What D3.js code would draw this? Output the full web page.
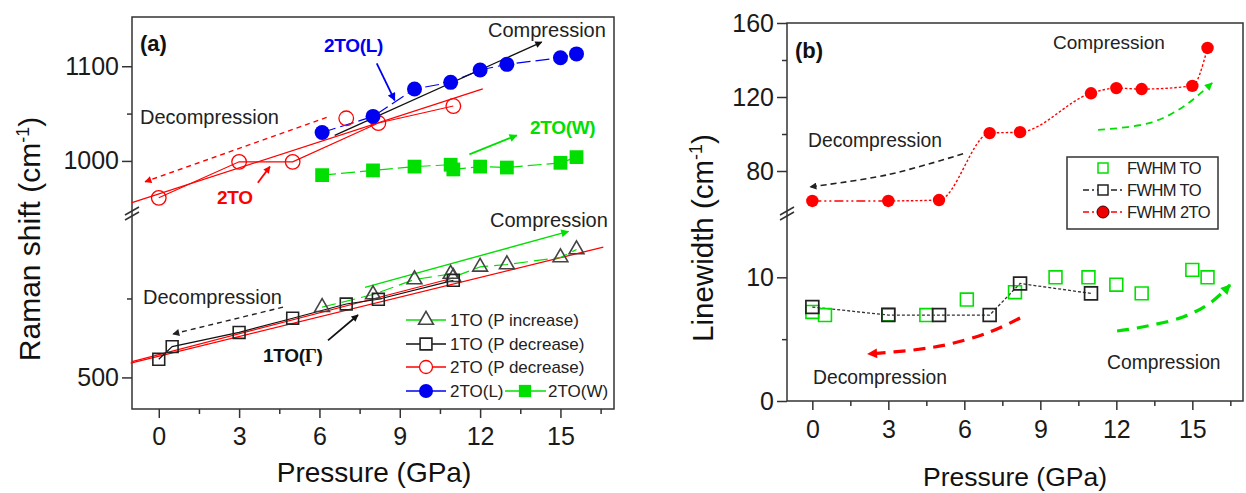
<!DOCTYPE html>
<html><head><meta charset="utf-8">
<script src="https://cdn.jsdelivr.net/npm/d3@7"></script>
<style>body{margin:0;background:#fff}svg{display:block}text{font-family:"Liberation Sans",Arial,sans-serif}</style>
</head><body><svg id="c" width="1246" height="493"></svg>
<script>
// ---------- data ----------
const xTicks = [0, 3, 6, 9, 12, 15];
const xMinor = [1.5, 4.5, 7.5, 10.5, 13.5, 16.5];
// panel (a) axis ticks
const aUpTicks = [1000, 1100], aUpMinor = [1050];
const aLoTicks = [500], aLoMinor = [600];
// panel (b) axis ticks
const bUpTicks = [80, 120, 160], bUpMinor = [100, 140];
const bLoTicks = [0, 10], bLoMinor = [5];

// panel (a) series
const p1TOinc = [6.1, 8, 9.55, 10.9, 11.0, 12, 13, 15, 15.6];
const v1TOinc = [589, 605, 624, 631, 627, 640, 643, 652, 662];
const p1TOdec = [0, 0.5, 3, 5, 7, 8.2, 11];
const v1TOdec = [523, 539, 557, 575, 593, 599, 623];
const p2TOdec = [0, 3, 5, 7, 8.2, 11];
const v2TOdec = [961, 999, 999, 1045, 1040, 1058];
const p2TOL = [6.1, 8, 9.55, 10.9, 12, 13, 15, 15.6];
const v2TOL = [1030, 1047, 1076, 1083, 1096, 1102, 1109, 1113];
const p2TOW = [6.1, 8, 9.55, 10.9, 11.0, 12, 13, 15, 15.6];
const v2TOW = [985, 990, 994, 996, 991, 994, 993, 998, 1004];

// panel (a) fit lines [p0,v0,p1,v1]
const fitRedUp1 = [-1, 956, 12.1, 1076];
const fitRedLo1 = [-1.05, 518, 16.6, 665];
const fitRedLo2 = [-1, 520, 11, 626];
const fitGreenLo = [7.7, 614, 15.3, 685];

// panel (b) series
const pFW2TO = [0, 3, 5, 7, 8.2, 11, 12, 13, 15, 15.6];
const vFW2TO = [63.8, 63.8, 64.3, 100.5, 101, 122, 124.8, 124.3, 126, 146.5];
const pFWTOblk = [0, 3, 5, 7, 8.2, 11];
const vFWTOblk = [7.6, 6.95, 6.95, 6.95, 9.5, 8.7];
const pFWTOgrn = [0, 0.5, 3, 4.5, 6.1, 8, 9.6, 10.9, 12, 13, 15, 15.6];
const vFWTOgrn = [7.2, 6.95, 7.0, 6.95, 8.2, 8.8, 10.0, 10.0, 9.4, 8.7, 10.6, 10.0];

// ---------- setup ----------
const svg = d3.select('#c');
const FONT = '"Liberation Sans",Arial,sans-serif';
const RED = '#ff0000', BLUE = '#0000f0', GREEN = '#00e000', DARK = '#333', TXT = '#222';

const defs = svg.append('defs');
function marker(id, color, w, h) {
  defs.append('marker').attr('id', id).attr('viewBox', '0 0 10 10')
    .attr('refX', 9).attr('refY', 5).attr('markerUnits', 'userSpaceOnUse')
    .attr('markerWidth', w).attr('markerHeight', h).attr('orient', 'auto')
    .append('path').attr('d', 'M0,0 L10,5 L0,10 z').attr('fill', color);
}
marker('ahK', '#111', 10, 7);
marker('ahR', RED, 10, 7);
marker('ahB', BLUE, 10, 8);
marker('ahG', GREEN, 11, 8);
marker('ahRb', RED, 12, 10);
marker('ahGb', GREEN, 12, 10);
marker('ahKb', '#222', 9, 7);

// panel (a) scales
const xA = d3.scaleLinear([-1, 17], [132, 614]);
const yAup = d3.scaleLinear([945, 1152], [213, 17]);
const yAlo = d3.scaleLinear([460, 707], [409, 214]);
const yA = v => v >= 800 ? yAup(v) : yAlo(v);
// panel (b) scales
const xB = d3.scaleLinear([-1, 17], [787, 1243]);
const yBup = d3.scaleLinear([57.3, 160], [213, 23]);
const yBlo = d3.scaleLinear([0, 15.2], [401, 213]);
const yB = v => v >= 40 ? yBup(v) : yBlo(v);

function styleAxis(g, fs) {
  g.select('.domain').remove();
  g.selectAll('line').attr('stroke', DARK).attr('stroke-width', 1.5);
  g.selectAll('text').attr('font-size', fs).attr('fill', '#1a1a1a').attr('font-family', FONT);
}

function drawAxes(x, yup, ylo, upT, upM, loT, loM, left, top, right, bottom, xPad) {
  const g1 = svg.append('g').attr('transform', `translate(${left},0)`)
    .call(d3.axisLeft(yup).tickValues(upT).tickSize(10).tickPadding(3).tickFormat(d3.format('d')));
  styleAxis(g1, 25);
  const g2 = svg.append('g').attr('transform', `translate(${left},0)`)
    .call(d3.axisLeft(yup).tickValues(upM).tickSize(5).tickFormat(''));
  styleAxis(g2, 25);
  const g3 = svg.append('g').attr('transform', `translate(${left},0)`)
    .call(d3.axisLeft(ylo).tickValues(loT).tickSize(10).tickPadding(3).tickFormat(d3.format('d')));
  styleAxis(g3, 25);
  const g4 = svg.append('g').attr('transform', `translate(${left},0)`)
    .call(d3.axisLeft(ylo).tickValues(loM).tickSize(5).tickFormat(''));
  styleAxis(g4, 25);
  const g5 = svg.append('g').attr('transform', `translate(0,${bottom})`)
    .call(d3.axisBottom(x).tickValues(xTicks).tickSize(9).tickPadding(xPad));
  styleAxis(g5, 25);
  const g6 = svg.append('g').attr('transform', `translate(0,${bottom})`)
    .call(d3.axisBottom(x).tickValues(xMinor).tickSize(5).tickFormat(''));
  styleAxis(g6, 25);
  svg.append('rect').attr('x', left).attr('y', top).attr('width', right - left).attr('height', bottom - top)
    .attr('fill', 'none').attr('stroke', DARK).attr('stroke-width', 1.5);
}

function brk(x, y) {
  [0, 5].forEach(o => {
    svg.append('line').attr('x1', x - 7).attr('y1', y + o + 4).attr('x2', x + 7).attr('y2', y + o - 4)
      .attr('stroke', DARK).attr('stroke-width', 1.5);
  });
}

function txt(x, y, s, o = {}) {
  const t = svg.append('text').attr('x', x).attr('y', y).text(s)
    .attr('font-size', o.size || 20).attr('fill', o.color || TXT)
    .attr('font-weight', o.bold ? 'bold' : 'normal').attr('text-anchor', o.anchor || 'start');
  if (o.ls) t.attr('letter-spacing', o.ls);
  return t;
}

const zip = (a, b) => a.map((d, i) => [d, b[i]]);

// ================= PANEL (a) =================
drawAxes(xA, yAup, yAlo, aUpTicks, aUpMinor, aLoTicks, aLoMinor, 132, 17, 614, 409, 9);
brk(132, 211);

const lineA = d3.line().x(d => xA(d[0])).y(d => yA(d[1]));
function segA(f, color, w, dash, mk) {
  const p = svg.append('path').attr('d', lineA([[f[0], f[1]], [f[2], f[3]]]))
    .attr('fill', 'none').attr('stroke', color).attr('stroke-width', w);
  if (dash) p.attr('stroke-dasharray', dash);
  if (mk) p.attr('marker-end', `url(#${mk})`);
}
segA(fitRedUp1, RED, 1.3);
segA(fitRedLo1, RED, 1.3);
segA(fitRedLo2, RED, 1.1);
segA(fitGreenLo, GREEN, 1.4, null, 'ahG');

function polyA(pts, color, w, dash) {
  const path = svg.append('path').attr('d', lineA(pts)).attr('fill', 'none')
    .attr('stroke', color).attr('stroke-width', w);
  if (dash) path.attr('stroke-dasharray', dash);
}
// red connection through 2TO points (the 7 GPa point sits off the path)
polyA(zip(p2TOdec, v2TOdec).filter(d => d[0] !== 7), RED, 1.1);
polyA(zip(p1TOinc, v1TOinc), GREEN, 1.2, '14,6');
polyA(zip(p1TOdec, v1TOdec), '#111', 1.2);
polyA(zip(p2TOL, v2TOL), BLUE, 1.2, '14,5');
polyA(zip(p2TOW, v2TOW), GREEN, 1.2, '14,5');

// arrows (data coords)
segA([6.27, 1046, -0.51, 978], RED, 1.4, '5,4', 'ahR');
segA([6.57, 1027, 14.3, 1125.5], '#111', 1.3, null, 'ahK');
segA([8.14, 1103, 8.81, 1064], BLUE, 1.8, null, 'ahB');
segA([11.6, 1007, 13.37, 1027], GREEN, 1.8, null, 'ahG');
segA([3.7, 977, 4.15, 994], RED, 1.8, null, 'ahR');
segA([6.32, 547, 7.44, 579], '#111', 1.8, null, 'ahK');
segA([4.64, 589, 0.53, 555], '#222', 1.4, '5,4', 'ahKb');

// markers
const tri = d3.symbol(d3.symbolTriangle, 95);
const sqA = d3.symbol(d3.symbolSquare, 140);
const sqAf = d3.symbol(d3.symbolSquare, 190);
svg.append('g').selectAll('path').data(zip(p1TOinc, v1TOinc)).join('path')
  .attr('d', tri).attr('transform', d => `translate(${xA(d[0])},${yA(d[1])})`)
  .attr('fill', 'none').attr('stroke', '#444').attr('stroke-width', 1.6);
svg.append('g').selectAll('path').data(zip(p1TOdec, v1TOdec)).join('path')
  .attr('d', sqA).attr('transform', d => `translate(${xA(d[0])},${yA(d[1])})`)
  .attr('fill', 'none').attr('stroke', '#222').attr('stroke-width', 1.6);
svg.append('g').selectAll('circle').data(zip(p2TOdec, v2TOdec)).join('circle')
  .attr('cx', d => xA(d[0])).attr('cy', d => yA(d[1])).attr('r', 7.3)
  .attr('fill', 'none').attr('stroke', RED).attr('stroke-width', 1.3);
svg.append('g').selectAll('circle').data(zip(p2TOL, v2TOL)).join('circle')
  .attr('cx', d => xA(d[0])).attr('cy', d => yA(d[1])).attr('r', 7.5).attr('fill', BLUE);
svg.append('g').selectAll('path').data(zip(p2TOW, v2TOW)).join('path')
  .attr('d', sqAf).attr('transform', d => `translate(${xA(d[0])},${yA(d[1])})`).attr('fill', GREEN);

// texts (a)
txt(140, 51, '(a)', {size: 22, bold: true, color: '#111'});
txt(488, 37, 'Compression', {size: 20});
txt(324, 52, '2TO(L)', {size: 19, bold: true, color: BLUE, ls: -0.3});
txt(530, 134, '2TO(W)', {size: 19, bold: true, color: GREEN, ls: -0.3});
txt(217, 204, '2TO', {size: 19, bold: true, color: RED, ls: -0.3});
txt(140, 124, 'Decompression', {size: 20});
txt(143, 304, 'Decompression', {size: 20});
txt(490, 227, 'Compression', {size: 20});
const gt = txt(263, 362, '1TO(', {size: 19, bold: true, color: '#111', ls: -0.3});
gt.append('tspan').attr('font-family', '"Liberation Serif","Times New Roman",serif').text('Γ');
gt.append('tspan').text(')');

// legend (a)
const legA = [
  {label: '1TO (P increase)', line: GREEN, mk: 'tri'},
  {label: '1TO (P decrease)', line: '#111', mk: 'sq'},
  {label: '2TO (P decrease)', line: RED, mk: 'circ'}
];
const legRowsA = [320, 344, 367, 391];
legA.forEach((d, i) => {
  const y = legRowsA[i];
  svg.append('line').attr('x1', 406).attr('x2', 446).attr('y1', y).attr('y2', y).attr('stroke', d.line).attr('stroke-width', 1.3);
  if (d.mk === 'tri') svg.append('path').attr('d', tri).attr('transform', `translate(426,${y})`).attr('fill', '#fff').attr('stroke', '#444').attr('stroke-width', 1.6);
  if (d.mk === 'sq') svg.append('path').attr('d', sqA).attr('transform', `translate(426,${y})`).attr('fill', '#fff').attr('stroke', '#222').attr('stroke-width', 1.6);
  if (d.mk === 'circ') svg.append('circle').attr('cx', 426).attr('cy', y).attr('r', 6.5).attr('fill', '#fff').attr('stroke', RED).attr('stroke-width', 1.3);
  txt(450, y + 6, d.label, {size: 17, color: '#222'});
});
{
  const y = legRowsA[3];
  svg.append('line').attr('x1', 406).attr('x2', 446).attr('y1', y).attr('y2', y).attr('stroke', BLUE).attr('stroke-width', 1.3);
  svg.append('circle').attr('cx', 426).attr('cy', y).attr('r', 7).attr('fill', BLUE);
  txt(450, y + 6, '2TO(L)', {size: 17, color: '#222'});
  svg.append('line').attr('x1', 505).attr('x2', 546).attr('y1', y).attr('y2', y).attr('stroke', GREEN).attr('stroke-width', 1.3);
  svg.append('path').attr('d', d3.symbol(d3.symbolSquare, 150)).attr('transform', `translate(525,${y})`).attr('fill', GREEN);
  txt(548, y + 6, '2TO(W)', {size: 17, color: '#222'});
}

// axis labels (a)
txt(374, 482, 'Pressure (GPa)', {size: 28, anchor: 'middle', color: '#111'});
const ylA = svg.append('text').attr('transform', 'translate(40,239) rotate(-90)').attr('text-anchor', 'middle')
  .attr('font-size', 30).attr('fill', '#111').text('Raman shift (cm');
ylA.append('tspan').attr('dy', -11).attr('font-size', 18).text('-1');
ylA.append('tspan').attr('dy', 11).text(')');

// ================= PANEL (b) =================
drawAxes(xB, yBup, yBlo, bUpTicks, bUpMinor, bLoTicks, bLoMinor, 787, 23, 1243, 401, 10);
brk(787, 211);

const lineB = d3.line().x(d => xB(d[0])).y(d => yB(d[1]));
const curveB = d3.line().x(d => xB(d[0])).y(d => yB(d[1])).curve(d3.curveMonotoneX);

const red2TO = zip(pFW2TO, vFW2TO);
svg.append('path').attr('d', lineB(red2TO.slice(0, 2))).attr('fill', 'none').attr('stroke', RED)
  .attr('stroke-width', 1.4).attr('stroke-dasharray', '9,3,2,3,2,3');
svg.append('path').attr('d', curveB(red2TO.slice(1))).attr('fill', 'none').attr('stroke', RED)
  .attr('stroke-width', 1.4).attr('stroke-dasharray', '2.5,2');
svg.append('path').attr('d', lineB(zip(pFWTOblk, vFWTOblk))).attr('fill', 'none').attr('stroke', '#333')
  .attr('stroke-width', 1.3).attr('stroke-dasharray', '3,2');

function arrowB(pts, color, w, dash, mk) {
  const gen = d3.line().x(d => xB(d[0])).y(d => yB(d[1])).curve(d3.curveCatmullRom);
  svg.append('path').attr('d', gen(pts)).attr('fill', 'none')
    .attr('stroke', color).attr('stroke-width', w).attr('stroke-dasharray', dash)
    .attr('marker-end', `url(#${mk})`);
}
arrowB([[5.95, 89.3], [2.95, 77.9], [-0.09, 71.4]], '#222', 1.6, '6,4', 'ahKb');
arrowB([[8.2, 6.71], [7.01, 5.58], [5.43, 4.61], [3.97, 4.12], [2.2, 3.8]], RED, 3.2, '12,8', 'ahRb');
arrowB([[12.03, 5.66], [12.82, 5.9], [14.63, 6.79], [15.7, 7.92], [16.49, 9.38]], GREEN, 3.2, '12,8', 'ahGb');
arrowB([[11.28, 102.2], [13.33, 106], [14.63, 114.6], [15.78, 127.6]], GREEN, 1.8, '7,5', 'ahG');

const sqB = d3.symbol(d3.symbolSquare, 165);
svg.append('g').selectAll('path').data(zip(pFWTOgrn, vFWTOgrn)).join('path')
  .attr('d', sqB).attr('transform', d => `translate(${xB(d[0])},${yB(d[1])})`)
  .attr('fill', 'none').attr('stroke', GREEN).attr('stroke-width', 1.6);
svg.append('g').selectAll('path').data(zip(pFWTOblk, vFWTOblk)).join('path')
  .attr('d', sqB).attr('transform', d => `translate(${xB(d[0])},${yB(d[1])})`)
  .attr('fill', 'none').attr('stroke', '#222').attr('stroke-width', 1.7);
svg.append('g').selectAll('circle').data(red2TO).join('circle')
  .attr('cx', d => xB(d[0])).attr('cy', d => yB(d[1])).attr('r', 6.2).attr('fill', RED);

txt(795, 58, '(b)', {size: 22, bold: true, color: '#111'});
txt(1053, 49, 'Compression', {size: 19});
txt(808, 147, 'Decompression', {size: 19.3});
txt(813, 384, 'Decompression', {size: 19.3});
txt(1107, 369, 'Compression', {size: 19.3});

svg.append('rect').attr('x', 1067).attr('y', 157).attr('width', 151).attr('height', 72)
  .attr('fill', '#fff').attr('stroke', DARK).attr('stroke-width', 1.5);
const legRowsB = [168, 190, 212];
const legB = ['FWHM TO', 'FWHM TO', 'FWHM 2TO'];
const sqL = d3.symbol(d3.symbolSquare, 100);
svg.append('path').attr('d', sqL).attr('transform', `translate(1103,${legRowsB[0]})`)
  .attr('fill', 'none').attr('stroke', GREEN).attr('stroke-width', 1.5);
svg.append('line').attr('x1', 1083).attr('x2', 1125).attr('y1', legRowsB[1]).attr('y2', legRowsB[1])
  .attr('stroke', '#222').attr('stroke-width', 1.3).attr('stroke-dasharray', '6,3,2,3');
svg.append('path').attr('d', sqL).attr('transform', `translate(1103,${legRowsB[1]})`)
  .attr('fill', '#fff').attr('stroke', '#222').attr('stroke-width', 1.5);
svg.append('line').attr('x1', 1083).attr('x2', 1125).attr('y1', legRowsB[2]).attr('y2', legRowsB[2])
  .attr('stroke', RED).attr('stroke-width', 1.3).attr('stroke-dasharray', '6,3,2,3');
svg.append('circle').attr('cx', 1103).attr('cy', legRowsB[2]).attr('r', 6).attr('fill', '#e00')
  .attr('stroke', '#400').attr('stroke-width', 1);
legB.forEach((s, i) => txt(1127, legRowsB[i] + 6, s, {size: 16.5, color: '#222', ls: -0.6}));

txt(1015, 486, 'Pressure (GPa)', {size: 26.5, anchor: 'middle', color: '#111'});
const ylB = svg.append('text').attr('transform', 'translate(713,238) rotate(-90)').attr('text-anchor', 'middle')
  .attr('font-size', 29.5).attr('fill', '#111').text('Linewidth (cm');
ylB.append('tspan').attr('dy', -11).attr('font-size', 18).text('-1');
ylB.append('tspan').attr('dy', 11).text(')');
</script>
</body></html>
